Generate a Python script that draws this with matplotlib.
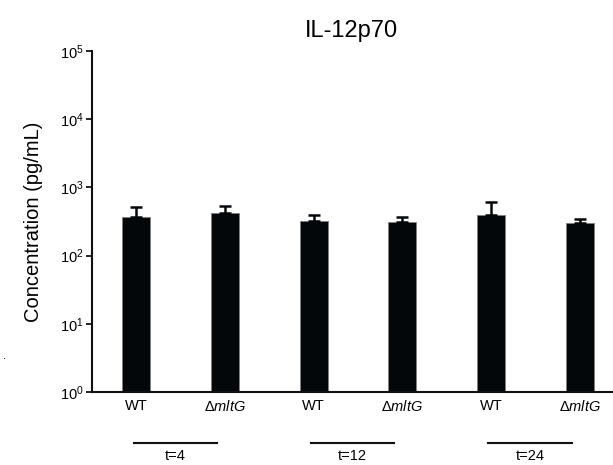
import matplotlib
matplotlib.use("Agg")
import matplotlib.pyplot as plt
import matplotlib.transforms as mtransforms
from matplotlib.ticker import LogLocator, NullLocator

plt.rcParams['font.family'] = ['Liberation Sans', 'DejaVu Sans']
plt.rcParams['mathtext.fontset'] = 'custom'
plt.rcParams['mathtext.rm'] = 'Liberation Sans'
plt.rcParams['mathtext.it'] = 'Liberation Sans:italic'
plt.rcParams['mathtext.sf'] = 'Liberation Sans'

# Data
categories = ['WT', r'$\mathrm{\Delta}\mathit{mltG}$', 'WT', r'$\mathrm{\Delta}\mathit{mltG}$', 'WT', r'$\mathrm{\Delta}\mathit{mltG}$']
values = [368, 422, 322, 311, 394, 301]
err_upper = [148, 112, 72, 57, 217, 43]
groups = ['t=4', 't=12', 't=24']
group_members = [(0, 1), (2, 3), (4, 5)]

fig = plt.figure(figsize=(6.13, 4.65), dpi=100)
ax = fig.add_axes([0.150, 0.157, 0.848, 0.733])

x = list(range(len(values)))
ax.bar(x, values, width=0.315, color='#03070a', edgecolor='#808080', linewidth=0.6, zorder=2)
ax.errorbar(x, values, yerr=[[0] * len(values), err_upper], fmt='none',
            ecolor='#03070a', elinewidth=1.8, capsize=4, capthick=1.8, zorder=3)

ax.set_yscale('log')
ax.set_ylim(1, 1e5)
ax.set_xlim(-0.5, 5.36)
ax.yaxis.set_major_locator(LogLocator(base=10, numticks=10))
ax.yaxis.set_minor_locator(NullLocator())
ax.set_xticks(x)
ax.set_xticklabels(categories, fontsize=10.5)
ax.tick_params(axis='x', length=0, pad=5)
ax.tick_params(axis='y', length=4, width=1.2, labelsize=10.5, pad=2, direction='out')

for s in ['top', 'right']:
    ax.spines[s].set_visible(False)
for s in ['left', 'bottom']:
    ax.spines[s].set_linewidth(1.5)
    ax.spines[s].set_color('#111111')

ax.set_ylabel('Concentration (pg/mL)', fontsize=14.5, labelpad=12)
ax.set_title('IL-12p70', fontsize=17, pad=10)

trans = mtransforms.blended_transform_factory(ax.transData, ax.transAxes)
for name, (a, b) in zip(groups, group_members):
    x0 = a - 0.03
    x1 = b - 0.09
    ax.plot([x0, x1], [-0.150, -0.150], transform=trans, color='#111111',
            linewidth=1.5, clip_on=False)
    ax.text((x0 + x1) / 2, -0.168, name, transform=trans, ha='center', va='top',
            fontsize=10.5)

fig.text(3 / 613, 1 - 356 / 465, '.', fontsize=8, ha='left', va='center')

fig.savefig('out.png', dpi=100)
